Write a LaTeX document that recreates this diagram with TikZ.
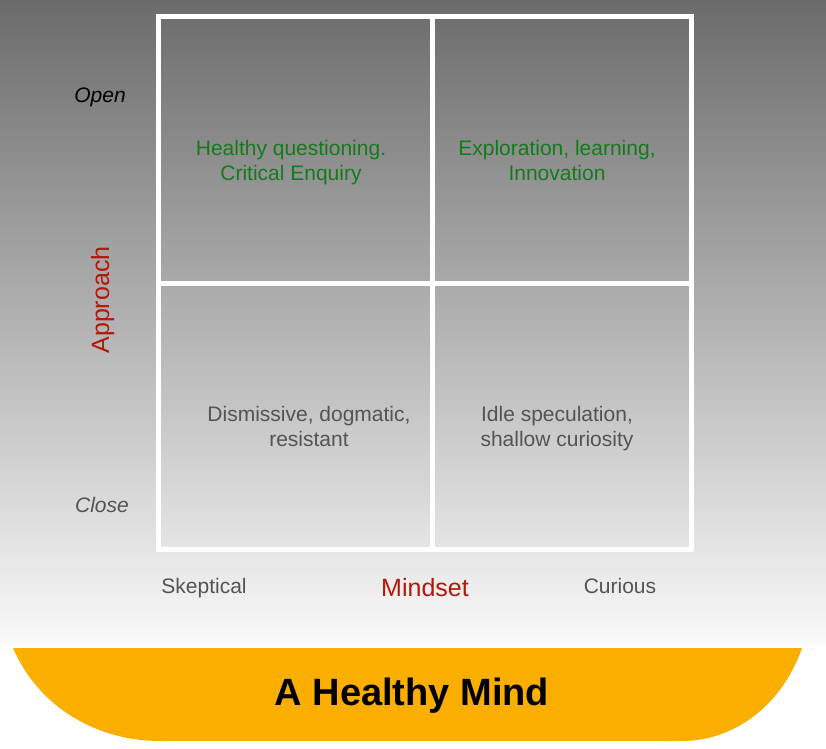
\documentclass[tikz,border=0pt]{standalone}
\usepackage{fontspec}
\setmainfont{Liberation Sans}
\usepackage{tikz}
\usetikzlibrary{positioning}

\definecolor{quadgreen}{RGB}{18,124,26}
\definecolor{quadgray}{RGB}{84,84,84}
\definecolor{axisred}{RGB}{178,24,10}
\definecolor{bowlorange}{RGB}{250,174,0}
\definecolor{topgray}{RGB}{107,107,107}

\begin{document}
\begin{tikzpicture}[
  x=1pt,y=-1pt,
  cell/.style={align=center,inner sep=0pt,anchor=base,font=\fontsize{21}{25}\selectfont},
  goodcell/.style={cell,text=quadgreen},
  poorcell/.style={cell,text=quadgray},
  tick/.style={inner sep=0pt,anchor=base,font=\fontsize{21}{25}\selectfont},
  axislabel/.style={inner sep=0pt,anchor=base,text=axisred,font=\fontsize{25}{30}\selectfont},
  gridline/.style={white,line width=5pt}
]
\useasboundingbox (0,0) rectangle (826,748);
\shade[top color=topgray,bottom color=white!98!black] (0,0) rectangle (826,645);
\fill[white] (0,645) rectangle (826,748);

% quadrant grid
\draw[gridline] (158.5,16.5) rectangle (691.5,549.5);
\draw[gridline] (432.5,16.5) -- (432.5,549.5);
\draw[gridline] (158.5,283.5) -- (691.5,283.5);

% quadrant texts (base = last line)
\node[goodcell] (crit) at (291,180) {Healthy questioning.\\Critical Enquiry};
\node[goodcell] (explo) at (557,180) {Exploration, learning,\\Innovation};
\node[poorcell] (dism) at (309,446) {Dismissive, dogmatic,\\resistant};
\node[poorcell] (idle) at (557,446) {Idle speculation,\\shallow curiosity};

% axes
\node[tick,font=\fontsize{21}{25}\selectfont\itshape] (open) at (100,102) {Open};
\node[tick,text=quadgray,font=\fontsize{21}{25}\selectfont\itshape] (close) at (102,512) {Close};
\node[axislabel,rotate=90] (appr) at (109,300) {Approach};
\node[tick,text=quadgray] (skep) at (204,593) {Skeptical};
\node[axislabel] (mind) at (425,596) {Mindset};
\node[tick,text=quadgray] (cur) at (620,593) {Curious};

% bowl
\fill[bowlorange] (13,648) -- (802,648) .. controls (780,710) and (730,741) .. (682,741)
  -- (160,741) .. controls (100,741) and (40,710) .. (13,648) -- cycle;
\node[inner sep=0pt,anchor=base,font=\fontsize{38}{44}\selectfont\bfseries] (mindtitle) at (412,705) {A Healthy Mind};
\end{tikzpicture}
\end{document}
